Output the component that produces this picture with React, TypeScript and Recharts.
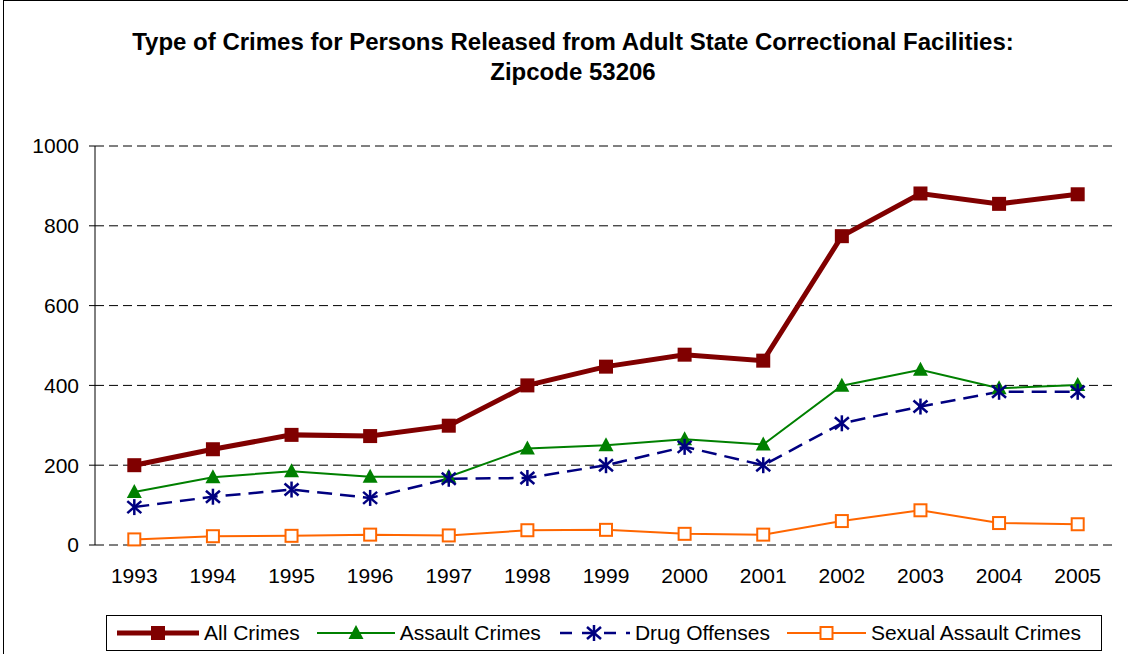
import React from "react";
import { LineChart, Line, XAxis, YAxis, CartesianGrid } from "recharts";

// ----------------------------- Data -----------------------------
const years = ["1993", "1994", "1995", "1996", "1997", "1998", "1999", "2000", "2001", "2002", "2003", "2004", "2005"];
const allCrimes = [200, 240, 276, 273, 299, 400, 447, 477, 462, 774, 881, 855, 879];
const assaultCrimes = [133, 170, 185, 171, 171, 242, 250, 265, 252, 399, 439, 393, 401];
const drugOffenses = [95, 121, 139, 118, 166, 168, 200, 246, 200, 305, 347, 384, 384];
const sexualAssaultCrimes = [14, 22, 23, 26, 24, 37, 38, 28, 26, 60, 87, 55, 52];
const yTicks = [0, 200, 400, 600, 800, 1000];
const categoryEdges = [0, 1, 2, 3, 4, 5, 6, 7, 8, 9, 10, 11, 12, 13];

const FONT = '"Liberation Sans", Arial, sans-serif';

type Marker = "square" | "triangle" | "star" | "hollow";
type Series = { key: string; name: string; color: string; width: number; dash?: string; marker: Marker; legendW: number };

const series: Series[] = [
  { key: "all", name: "All Crimes", color: "#800000", width: 5, marker: "square", legendW: 84 },
  { key: "assault", name: "Assault Crimes", color: "#008000", width: 2, marker: "triangle", legendW: 80 },
  { key: "drug", name: "Drug Offenses", color: "#000080", width: 2.5, dash: "15 8", marker: "star", legendW: 74 },
  { key: "sexual", name: "Sexual Assault Crimes", color: "#FF6600", width: 2, marker: "hollow", legendW: 81 },
];

const data = years.map((year, i) => ({
  year,
  all: allCrimes[i],
  assault: assaultCrimes[i],
  drug: drugOffenses[i],
  sexual: sexualAssaultCrimes[i],
}));

// ----------------------------- Markers -----------------------------
function MarkerShape({ cx, cy, marker, color }: { cx: number; cy: number; marker: Marker; color: string }) {
  if (marker === "square") return <rect x={cx - 7} y={cy - 7} width={14} height={14} fill={color} />;
  if (marker === "triangle")
    return <polygon points={`${cx},${cy - 8} ${cx + 7.5},${cy + 6} ${cx - 7.5},${cy + 6}`} fill={color} />;
  if (marker === "star")
    return (
      <g stroke={color} strokeWidth={2.5} strokeLinecap="butt">
        <line x1={cx} y1={cy - 8} x2={cx} y2={cy + 8} />
        <line x1={cx - 7} y1={cy - 6} x2={cx + 7} y2={cy + 6} />
        <line x1={cx - 7} y1={cy + 6} x2={cx + 7} y2={cy - 6} />
      </g>
    );
  return <rect x={cx - 6} y={cy - 6} width={12} height={12} fill="#fff" stroke={color} strokeWidth={2} />;
}

const makeDot = (s: Series) => (props: any) => {
  const { cx, cy, index } = props;
  if (cx == null || cy == null) return <g key={`${s.key}-${index}`} />;
  return (
    <g key={`${s.key}-${index}`}>
      <MarkerShape cx={cx} cy={cy} marker={s.marker} color={s.color} />
    </g>
  );
};

function LegendIcon({ s }: { s: Series }) {
  const w = s.legendW;
  return (
    <svg width={w} height={20} style={{ display: "block" }}>
      <line x1={1} y1={10} x2={w - 1} y2={10} stroke={s.color} strokeWidth={s.width} strokeDasharray={s.dash ? "12 10" : undefined} strokeDashoffset={s.dash ? -2 : undefined} />
      <MarkerShape cx={w / 2} cy={10} marker={s.marker} color={s.color} />
    </svg>
  );
}

// ----------------------------- Chart -----------------------------
export default function App() {
  return (
    <div style={{ position: "absolute", left: 0, top: 0, width: 1128, height: 654, background: "#fff", fontFamily: FONT, overflow: "hidden" }}>
      <div style={{ position: "absolute", left: 3, top: 0, width: 1140, height: 670, border: "1px solid #000", boxSizing: "border-box" }} />
      <div style={{ position: "absolute", left: 0, top: 27, width: 1146, textAlign: "center", fontWeight: "bold", fontSize: 24, lineHeight: "30px", color: "#000" }}>
        Type of Crimes for Persons Released from Adult State Correctional Facilities:
        <br />
        Zipcode 53206
      </div>
      <div style={{ position: "absolute", left: 0, top: 0 }}>
        <LineChart width={1128} height={654} data={data} margin={{ top: 146, right: 11, left: 35, bottom: 69 }}>
          <CartesianGrid horizontal vertical={false} stroke="#000" strokeDasharray="9 5" yAxisId="left" xAxisId="cat" />
          <XAxis
            xAxisId="edges"
            type="number"
            domain={[0, 13]}
            ticks={categoryEdges}
            allowDataOverflow
            height={0}
            mirror
            tick={false}
            tickSize={5}
            axisLine={{ stroke: "#000" }}
            tickLine={{ stroke: "#000" }}
          />
          <XAxis
            xAxisId="cat"
            dataKey="year"
            scale="band"
            height={40}
            axisLine={false}
            tickLine={false}
            tickMargin={17}
            tick={{ fontSize: 21, fill: "#000", fontFamily: FONT }}
            interval={0}
          />
          <XAxis xAxisId="top" orientation="top" dataKey="year" scale="band" height={0} tick={false} tickLine={false} axisLine={{ stroke: "#808080" }} />
          <YAxis
            yAxisId="left"
            domain={[0, 1000]}
            ticks={yTicks}
            width={60}
            tickSize={6}
            tickMargin={10}
            axisLine={{ stroke: "#000" }}
            tickLine={{ stroke: "#000" }}
            tick={{ fontSize: 21, fill: "#000", fontFamily: FONT }}
          />
          <YAxis yAxisId="right" orientation="right" domain={[0, 1000]} width={0} tick={false} tickLine={false} axisLine={{ stroke: "#808080" }} />
          {series.map((s) => (
            <Line
              key={s.key}
              xAxisId="cat"
              yAxisId="left"
              type="linear"
              dataKey={s.key}
              name={s.name}
              stroke={s.color}
              strokeWidth={s.width}
              strokeDasharray={s.dash}
              dot={makeDot(s)}
              activeDot={false}
              isAnimationActive={false}
            />
          ))}
        </LineChart>
      </div>
      <div
        style={{
          position: "absolute",
          left: 106,
          top: 615,
          width: 996,
          height: 36,
          border: "1px solid #000",
          boxSizing: "border-box",
          display: "flex",
          alignItems: "center",
          justifyContent: "flex-start",
          paddingLeft: 9,
          gap: 16,
          fontSize: 21,
          color: "#000",
        }}
      >
        {series.map((s) => (
          <div key={s.key} style={{ display: "flex", alignItems: "center", gap: 4 }}>
            <LegendIcon s={s} />
            <span>{s.name}</span>
          </div>
        ))}
      </div>
    </div>
  );
}
